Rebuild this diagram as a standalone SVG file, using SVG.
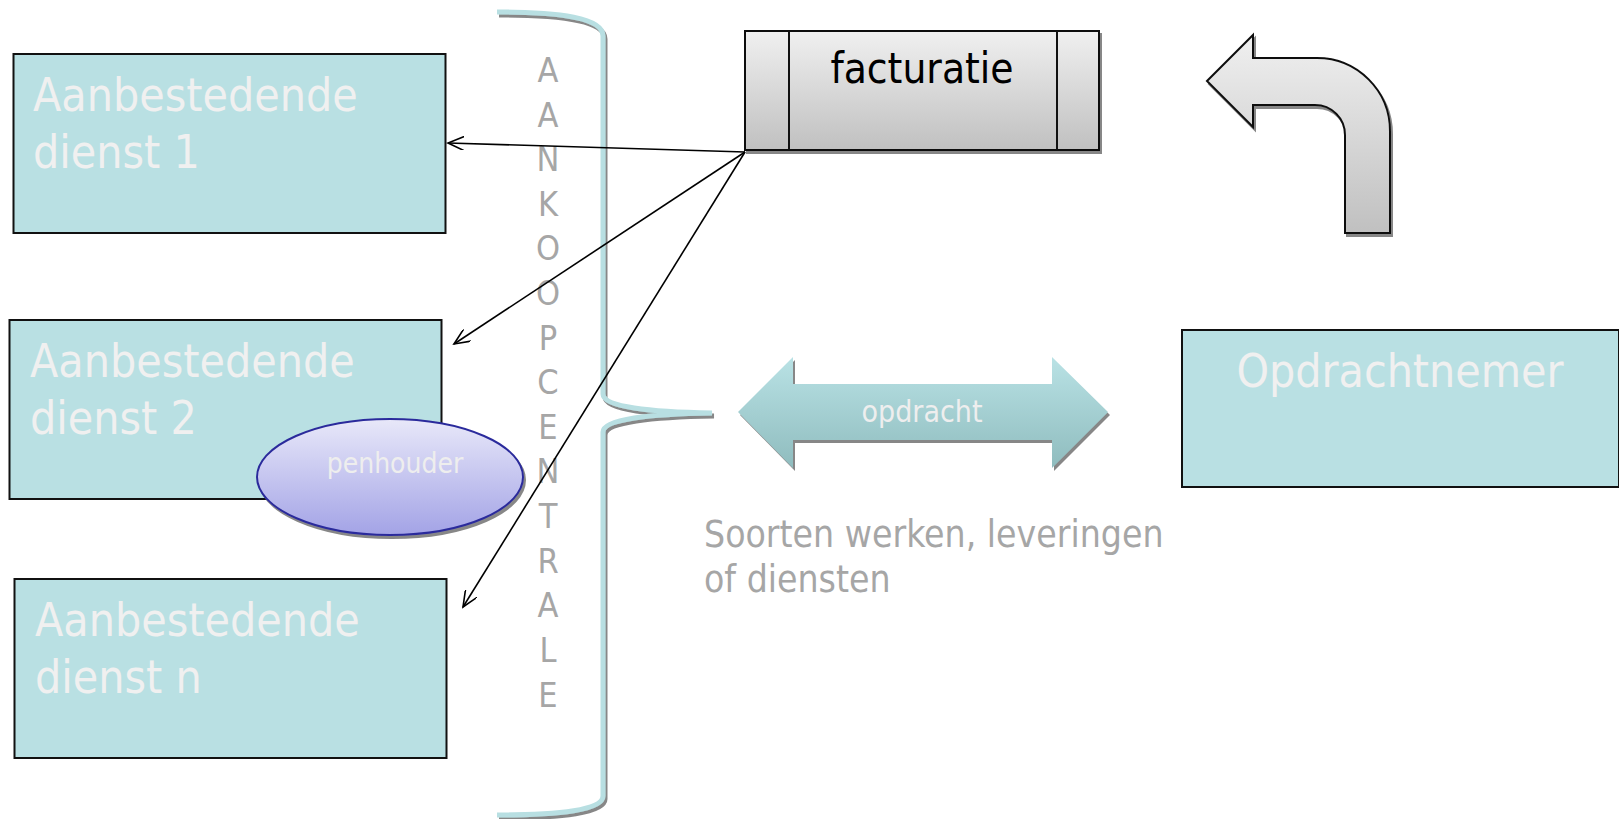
<svg xmlns="http://www.w3.org/2000/svg" width="1619" height="819" viewBox="0 0 1619 819">
<defs>
<style>
.box{fill:#b9e0e3;stroke:#111;stroke-width:2}
.bt{font-family:"DejaVu Sans Condensed","DejaVu Sans",sans-serif;font-stretch:condensed;fill:#f0f0f0;font-size:46px}
.vt{font-family:"DejaVu Sans Condensed","DejaVu Sans",sans-serif;font-stretch:condensed;fill:#a6a6a6;font-size:34px;text-anchor:middle}
.conn{stroke:#000;stroke-width:1.6;fill:none;marker-end:url(#open)}
</style>
<linearGradient id="gray" x1="0" y1="0" x2="0" y2="1"><stop offset="0" stop-color="#f0f0f0"/><stop offset="1" stop-color="#c0c0c0"/></linearGradient>
<linearGradient id="teal" x1="0" y1="0" x2="0" y2="1"><stop offset="0" stop-color="#b9e2e5"/><stop offset="1" stop-color="#8fbcbe"/></linearGradient>
<linearGradient id="violet" x1="0" y1="0" x2="0" y2="1"><stop offset="0" stop-color="#e8e8f9"/><stop offset="1" stop-color="#a3a3e6"/></linearGradient>
<filter id="sh" x="-10%" y="-10%" width="130%" height="130%"><feDropShadow dx="2" dy="3" stdDeviation="0.6" flood-color="#555" flood-opacity="0.7"/></filter>
<marker id="open" markerUnits="userSpaceOnUse" markerWidth="18" markerHeight="14" refX="16" refY="7" orient="auto"><path d="M0,0 L16,7 L0,14" fill="none" stroke="#000" stroke-width="1.6"/></marker>
</defs>
<rect width="1619" height="819" fill="#fff"/>
<g id="brace"><path d="M497,12 C560,12 603,18 603,36 L603,394 C603,407 650,412 712,413 C650,414 603,419 603,432 L603,796 C603,810 560,815 497,815" fill="none" stroke="#b8dfe2" stroke-width="5" filter="url(#sh)"/></g>
<g id="aankoopcentrale">
<text class="vt" x="548" y="82">A</text><text class="vt" x="548" y="127">A</text><text class="vt" x="548" y="171">N</text><text class="vt" x="548" y="216">K</text><text class="vt" x="548" y="260">O</text><text class="vt" x="548" y="305">O</text><text class="vt" x="548" y="350">P</text><text class="vt" x="548" y="394">C</text><text class="vt" x="548" y="439">E</text><text class="vt" x="548" y="483">N</text><text class="vt" x="548" y="528">T</text><text class="vt" x="548" y="573">R</text><text class="vt" x="548" y="617">A</text><text class="vt" x="548" y="662">L</text><text class="vt" x="548" y="707">E</text>
</g>
<g id="dienst1"><rect class="box" x="13.5" y="54" width="432" height="179"/><text class="bt" x="33" y="111">Aanbestedende</text><text class="bt" x="33" y="168">dienst 1</text></g>
<g id="dienst2"><rect class="box" x="9.5" y="320" width="432" height="179"/><text class="bt" x="30" y="377">Aanbestedende</text><text class="bt" x="30" y="434">dienst 2</text></g>
<g id="penhouder"><ellipse cx="390" cy="477" rx="133" ry="58" fill="url(#violet)" stroke="#2b2b9c" stroke-width="2" filter="url(#sh)"/><text x="395" y="473" text-anchor="middle" font-family="DejaVu Sans Condensed, DejaVu Sans, sans-serif" font-stretch="condensed" font-size="28" fill="#eeeeee">penhouder</text></g>
<g id="dienstn"><rect class="box" x="14.5" y="579" width="432" height="179"/><text class="bt" x="35" y="636">Aanbestedende</text><text class="bt" x="35" y="693">dienst n</text></g>
<g id="facturatie"><rect x="745" y="31" width="354" height="119" fill="url(#gray)" stroke="#111" stroke-width="2" filter="url(#sh)"/><line x1="789" y1="31" x2="789" y2="150" stroke="#111" stroke-width="2"/><line x1="1057" y1="31" x2="1057" y2="150" stroke="#111" stroke-width="2"/><text x="922" y="83" text-anchor="middle" font-family="DejaVu Sans Condensed, DejaVu Sans, sans-serif" font-stretch="condensed" font-size="42" fill="#000">facturatie</text></g>
<g id="bocht"><path d="M1207,81 L1253,35 L1253,58 L1317,58 A73,73 0 0 1 1390,131 L1390,233 L1345,233 L1345,135 A30,30 0 0 0 1315,105 L1253,105 L1253,127 Z" fill="url(#gray)" stroke="#111" stroke-width="2" filter="url(#sh)"/></g>
<g id="opdracht"><path d="M738,412 L793,357 L793,384 L1052,384 L1052,357 L1108,412 L1052,468 L1052,440 L793,440 L793,468 Z" fill="url(#teal)" filter="url(#sh)"/><text x="922" y="422" text-anchor="middle" font-family="DejaVu Sans Condensed, DejaVu Sans, sans-serif" font-stretch="condensed" font-size="30" fill="#eeeeee">opdracht</text></g>
<g id="opdrachtnemer"><rect class="box" x="1182" y="330" width="437" height="157"/><text class="bt" x="1400" y="387" text-anchor="middle">Opdrachtnemer</text></g>
<g id="soorten"><text font-family="DejaVu Sans Condensed, DejaVu Sans, sans-serif" font-stretch="condensed" font-size="37" fill="#a6a6a6"><tspan x="704" y="547">Soorten werken, leveringen</tspan><tspan x="704" y="592">of diensten</tspan></text></g>
<g id="connectors">
<line class="conn" x1="745" y1="152" x2="448" y2="143"/>
<line class="conn" x1="745" y1="152" x2="454" y2="344"/>
<line class="conn" x1="745" y1="152" x2="463" y2="607"/>
</g>
</svg>
